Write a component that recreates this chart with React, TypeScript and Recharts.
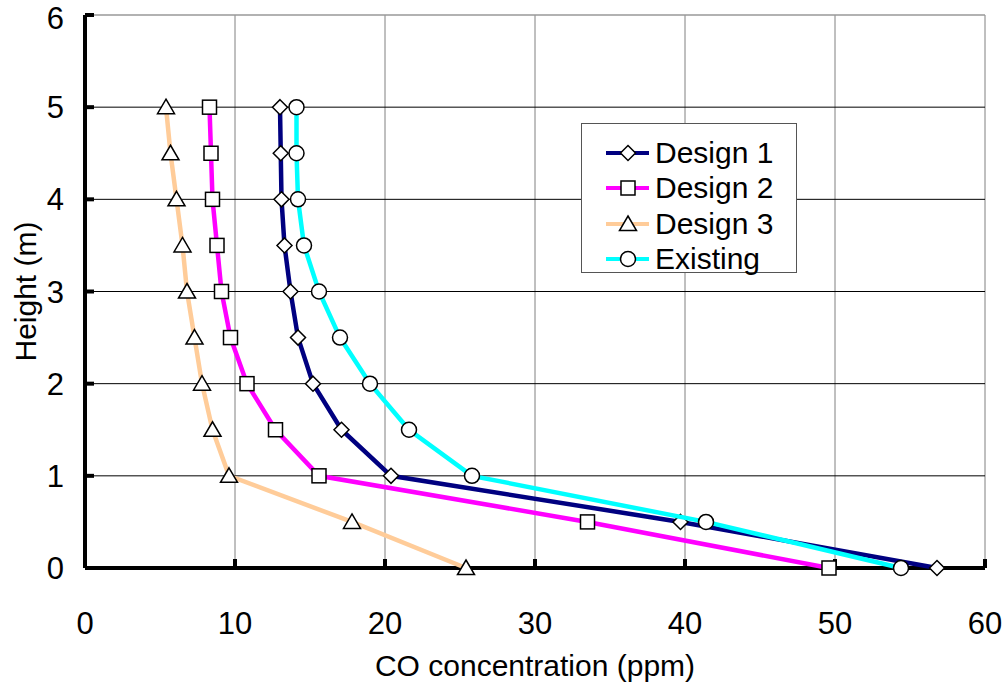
import { ScatterChart, Scatter, XAxis, YAxis, CartesianGrid, ReferenceLine } from 'recharts'

const heights = [0, 0.5, 1, 1.5, 2, 2.5, 3, 3.5, 4, 4.5, 5]
const design1 = [56.8, 39.7, 20.4, 17.1, 15.2, 14.2, 13.7, 13.3, 13.1, 13.05, 13.0]
const design2 = [49.6, 33.5, 15.6, 12.7, 10.8, 9.7, 9.1, 8.8, 8.5, 8.4, 8.3]
const design3 = [25.4, 17.8, 9.6, 8.5, 7.8, 7.3, 6.8, 6.5, 6.1, 5.7, 5.4]
const existing = [54.4, 41.4, 25.8, 21.6, 19.0, 17.0, 15.6, 14.6, 14.2, 14.1, 14.1]
const xTicks = [0, 10, 20, 30, 40, 50, 60]
const yTicks = [0, 1, 2, 3, 4, 5, 6]

const toPoints = (vals: number[]) => vals.map((v, i) => ({ x: v, y: heights[i] }))

const FONT = 'Liberation Sans, Arial, sans-serif'
const FS = 30
const TICK_FS = 31

const Marker = ({ kind, cx, cy }: { kind: string; cx: number; cy: number }) => {
    const st = { fill: '#fff', stroke: '#000', strokeWidth: 1.5 }
    if (kind === 'diamond')
        return <polygon points={`${cx},${cy - 7.5} ${cx + 7.5},${cy} ${cx},${cy + 7.5} ${cx - 7.5},${cy}`} {...st} />
    if (kind === 'square') return <rect x={cx - 7} y={cy - 7} width={14} height={14} {...st} />
    if (kind === 'triangle')
        return <polygon points={`${cx},${cy - 8} ${cx + 8.5},${cy + 6.5} ${cx - 8.5},${cy + 6.5}`} {...st} />
    return <circle cx={cx} cy={cy} r={7.5} {...st} />
}

const series = [
    { name: 'Design 1', vals: design1, color: '#000080', kind: 'diamond' },
    { name: 'Design 2', vals: design2, color: '#ff00ff', kind: 'square' },
    { name: 'Design 3', vals: design3, color: '#ffcc99', kind: 'triangle' },
    { name: 'Existing', vals: existing, color: '#00ffff', kind: 'circle' },
]

const LegendBox = () => (
    <div
        style={{
            position: 'absolute',
            left: 581,
            top: 123,
            width: 216,
            height: 150,
            background: '#fff',
            border: '1px solid #555',
            boxSizing: 'border-box',
            paddingTop: 11,
            fontFamily: FONT,
            fontSize: FS,
            lineHeight: 1,
        }}
    >
        {series.map((s) => (
            <div key={s.name} style={{ display: 'flex', alignItems: 'center', height: 35.5 }}>
                <svg width={73} height={24} style={{ flex: 'none' }}>
                    <line x1={24} x2={67} y1={12} y2={12} stroke={s.color} strokeWidth={4} />
                    <Marker kind={s.kind} cx={46} cy={12} />
                </svg>
                <span style={{ color: '#000', whiteSpace: 'nowrap' }}>{s.name}</span>
            </div>
        ))}
    </div>
)

export default function App() {
    return (
        <div style={{ position: 'absolute', left: 0, top: 0, width: 1008, height: 688, background: '#fff' }}>
            <ScatterChart width={1008} height={688} margin={{ top: 15, right: 23, left: 0, bottom: 0 }}>
                <CartesianGrid horizontal={false} stroke="#808080" strokeWidth={1} verticalValues={xTicks} />
                <CartesianGrid vertical={false} stroke="#000" strokeWidth={1} horizontalValues={[1, 2, 3, 4, 5]} />
                <ReferenceLine y={6} stroke="#999" strokeWidth={1.5} />
                <XAxis
                    type="number"
                    dataKey="x"
                    domain={[0, 60]}
                    ticks={xTicks}
                    height={120}
                    fontSize={TICK_FS}
                    axisLine={{ stroke: '#000', strokeWidth: 4 }}
                    tickLine={{ stroke: '#000', strokeWidth: 4 }}
                    tickSize={-9}
                    tickMargin={53}
                    tick={{ fill: '#000', fontSize: TICK_FS, fontFamily: FONT }}
                    label={{ value: 'CO concentration (ppm)', position: 'insideBottom', offset: 12, fill: '#000', fontSize: FS, fontFamily: FONT }}
                />
                <YAxis
                    type="number"
                    dataKey="y"
                    domain={[0, 6]}
                    ticks={yTicks}
                    width={85}
                    fontSize={TICK_FS}
                    axisLine={{ stroke: '#000', strokeWidth: 4 }}
                    tickLine={{ stroke: '#000', strokeWidth: 4 }}
                    tickSize={-9}
                    tickMargin={30}
                    tick={{ fill: '#000', fontSize: TICK_FS, fontFamily: FONT }}
                    label={{ value: 'Height (m)', angle: -90, position: 'insideLeft', offset: 25, textAnchor: 'middle', fill: '#000', fontSize: FS, fontFamily: FONT }}
                />
                {series.map((s) => (
                    <Scatter
                        key={s.name}
                        name={s.name}
                        data={toPoints(s.vals)}
                        line={{ stroke: s.color, strokeWidth: 4.5 }}
                        lineJointType="linear"
                        shape={(p: any) => <Marker kind={s.kind} cx={p.cx} cy={p.cy} />}
                        isAnimationActive={false}
                    />
                ))}
            </ScatterChart>
            <LegendBox />
        </div>
    )
}
